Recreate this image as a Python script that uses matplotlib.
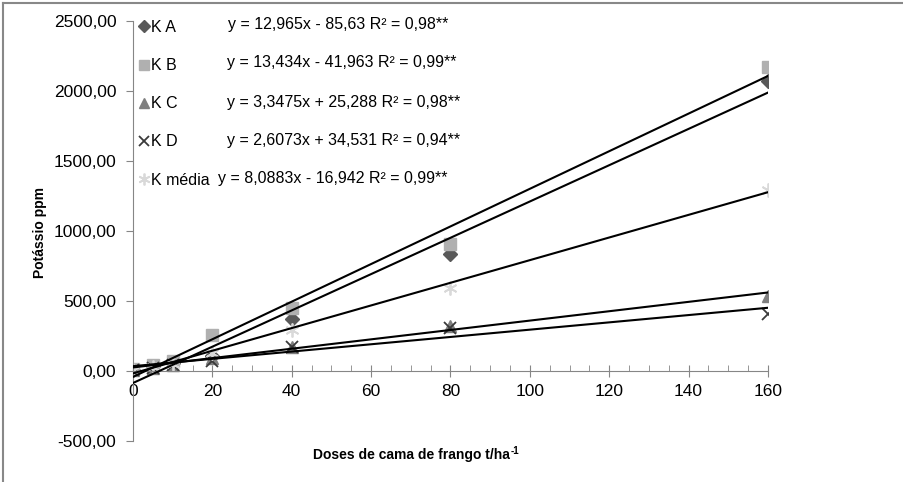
import matplotlib
matplotlib.use("Agg")
import matplotlib.pyplot as plt
from matplotlib.lines import Line2D
from matplotlib.ticker import MultipleLocator, FuncFormatter
import numpy as np

plt.rcParams['font.family'] = ['Liberation Sans', 'DejaVu Sans']

doses = [0, 5, 10, 20, 40, 80, 160]
k_a = [5, 35, 55, 110, 370, 835, 2070]
k_b = [15, 40, 70, 255, 450, 905, 2170]
k_c = [5, 20, 40, 95, 175, 320, 535]
k_d = [5, 20, 40, 75, 175, 305, 410]
k_media = [8, 30, 50, 130, 290, 590, 1295]

series_names = ["K A", "K B", "K C", "K D", "K média"]
slopes = [12.965, 13.434, 3.3475, 2.6073, 8.0883]
intercepts = [-85.63, -41.963, 25.288, 34.531, -16.942]
equations = ["y = 12,965x - 85,63 R² = 0,98**",
             "y = 13,434x - 41,963 R² = 0,99**",
             "y = 3,3475x + 25,288 R² = 0,98**",
             "y = 2,6073x + 34,531 R² = 0,94**",
             "y = 8,0883x - 16,942 R² = 0,99**"]

W, H = 904, 482
fig = plt.figure(figsize=(W/100, H/100), dpi=100)
ax = fig.add_axes([133/W, (H-441)/H, 635/W, 420/H])

styles = [dict(marker='D', color='#595959', ms=7),
          dict(marker='s', color='#b0b0b0', ms=9),
          dict(marker='^', color='#7f7f7f', ms=9),
          dict(marker='x', color='#3a3a3a', ms=9, mew=1.3),
          dict(marker=(6, 2, 0), color='#d9d9d9', ms=10, mew=1.3)]
data = [k_a, k_b, k_c, k_d, k_media]

xs = np.array([0, 160])
for s, a, b in zip(data, slopes, intercepts):
    ax.plot(xs, a*xs + b, color='black', lw=1.5, zorder=3)

handles = []
for s, st, name in zip(data, styles, series_names):
    ax.plot(doses, s, linestyle='none', zorder=2, **st)
    handles.append(Line2D([], [], linestyle='none', **{**st, 'ms': st['ms']*0.85}))

ax.set_xlim(0, 160)
ax.set_ylim(-500, 2500)
ax.spines['top'].set_visible(False)
ax.spines['right'].set_visible(False)
ax.spines['left'].set_color('#868686')
ax.spines['bottom'].set_color('#868686')
ax.spines['bottom'].set_position(('data', 0))
ax.xaxis.set_major_locator(MultipleLocator(20))
ax.xaxis.set_minor_locator(MultipleLocator(5))
ax.yaxis.set_major_locator(MultipleLocator(500))
ax.yaxis.set_major_formatter(FuncFormatter(lambda v, p: f"{v:.2f}".replace('.', ',')))
ax.tick_params(axis='x', which='major', direction='inout', length=9, color='#868686',
               labelsize=12.5, pad=5)
ax.tick_params(axis='x', which='minor', direction='in', length=4, color='#868686')
ax.tick_params(axis='y', which='major', direction='out', length=5, color='#868686',
               labelsize=12.5, pad=7)

fig.text(40/W, 1-232/H, "Potássio ppm", fontsize=10, fontweight='bold', rotation=90,
         ha='center', va='center')
fig.text(510/W, 1-455/H, "Doses de cama de frango t/ha", fontsize=10,
         fontweight='bold', ha='right', va='center')
fig.text(511/W, 1-451/H, "-1", fontsize=7, fontweight='bold', ha='left', va='center')

leg = ax.legend(handles, series_names, loc='upper left', bbox_to_anchor=(139/W, 1-20/H),
                bbox_transform=fig.transFigure, frameon=False, fontsize=11.5,
                handlelength=0.6, handletextpad=0.15, labelspacing=1.45, borderpad=0,
                borderaxespad=0)

eq_y = [25, 63, 102, 140, 178]
eq_x = [228, 227, 227, 227, 218]
for t, yy, xx in zip(equations, eq_y, eq_x):
    fig.text(xx/W, 1-yy/H, t, fontsize=11.5, ha='left', va='center')

fig.add_artist(Line2D([3/W, 3/W], [0, 1-3/H], color='#888888', lw=1.5, transform=fig.transFigure))
fig.add_artist(Line2D([3/W, 1], [1-3/H, 1-3/H], color='#888888', lw=1.5, transform=fig.transFigure))

fig.savefig("out.png", dpi=100)
